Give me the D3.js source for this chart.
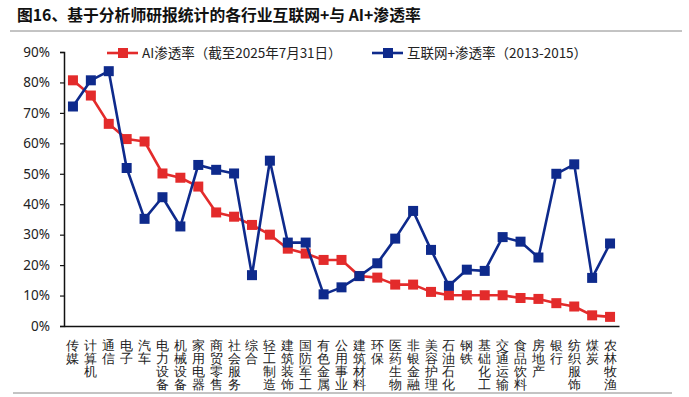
<!DOCTYPE html>
<html>
<head>
<meta charset="utf-8">
<script src="https://cdn.jsdelivr.net/npm/d3@7"></script>
<style>
  body { margin: 0; background: #fff; }
  svg { display: block; font-family: "Noto Sans CJK SC", "Noto Sans", sans-serif; }
</style>
</head>
<body>
<svg id="svg"></svg>
<script>
// industries, in the order of the x axis
const industries = ["传媒", "计算机", "通信", "电子", "汽车", "电力设备", "机械设备", "家用电器",
  "商贸零售", "社会服务", "综合", "轻工制造", "建筑装饰", "国防军工", "有色金属", "公用事业",
  "建筑材料", "环保", "医药生物", "非银金融", "美容护理", "石油石化", "钢铁", "基础化工",
  "交通运输", "食品饮料", "房地产", "银行", "纺织服饰", "煤炭", "农林牧渔"];

// AI渗透率 (%)
const aiRate = [80.7, 75.7, 66.4, 61.4, 60.6, 50.1, 48.7, 45.8, 37.3, 35.9, 33.2, 30.0, 25.4, 23.8,
  21.7, 21.7, 16.4, 15.9, 13.6, 13.6, 11.2, 10.1, 10.1, 10.1, 10.1, 9.2, 8.9, 7.5, 6.4, 3.5, 3.0];

// 互联网+渗透率 (%)
const netRate = [72.1, 80.7, 83.7, 51.9, 35.2, 42.3, 32.7, 52.9, 51.3, 50.1, 16.7, 54.3, 27.4, 27.4,
  10.4, 12.7, 16.4, 20.6, 28.7, 37.8, 25.0, 13.2, 18.5, 18.1, 29.2, 27.7, 22.5, 50.0, 53.1, 15.8, 27.1];

const yTicks = [0, 10, 20, 30, 40, 50, 60, 70, 80, 90];

const seriesNames = ["AI渗透率（截至2025年7月31日）", "互联网+渗透率（2013-2015）"];
const red = "#E32B2B";
const blue = "#0E2A8C";

const width = 689;
const height = 397;

let svg = d3.select("#svg")
    .attr("width", width)
    .attr("height", height);

// title + rules
svg.append("text")
    .attr("x", 17)
    .attr("y", 21)
    .style("font-size", "15.8px")
    .style("font-weight", "bold")
    .style("fill", "#111")
    .text("图16、基于分析师研报统计的各行业互联网+与 AI+渗透率");

svg.append("line")
    .attr("x1", 10).attr("x2", 682)
    .attr("y1", 31).attr("y2", 31)
    .attr("stroke", "#888").attr("stroke-width", 1);

svg.append("line")
    .attr("x1", 13).attr("x2", 672)
    .attr("y1", 393).attr("y2", 393)
    .attr("stroke", "#888").attr("stroke-width", 1);

// plot area
const margin = { top: 52, left: 64, right: 70, bottom: 71 };
const chartWidth = width - margin.left - margin.right;
const chartHeight = height - margin.top - margin.bottom;

let chart = svg.append("g")
    .attr("transform", "translate(" + margin.left + "," + margin.top + ")");

let xScale = d3.scaleBand()
    .domain(industries)
    .range([0, chartWidth]);

let yScale = d3.scaleLinear()
    .domain([0, 90])
    .range([chartHeight, 0]);

// y axis
let yAxis = chart.append("g")
    .call(d3.axisLeft(yScale).tickValues(yTicks).tickSize(4).tickSizeOuter(4).tickFormat(d => d + "%"));
yAxis.select(".domain").attr("stroke", "#111").attr("stroke-width", 1.5);
yAxis.selectAll(".tick line").attr("stroke", "#111").attr("stroke-width", 1.2);
yAxis.selectAll(".tick text")
    .attr("x", -14)
    .style("font-size", "13.5px")
    .style("font-family", "'Noto Sans', sans-serif")
    .style("fill", "#222");

// x axis
let xAxis = chart.append("g")
    .attr("transform", "translate(0," + chartHeight + ")")
    .call(d3.axisBottom(xScale).tickSize(0).tickSizeOuter(0));
xAxis.select(".domain").attr("stroke", "#111").attr("stroke-width", 1.5);
xAxis.selectAll(".tick text").remove();

// vertical category labels, one character per line
xAxis.selectAll(".tick").each(function(d) {
    let t = d3.select(this).append("text")
        .attr("text-anchor", "middle")
        .style("font-size", "13px")
        .style("fill", "#222");
    Array.from(d).forEach((ch, i) => {
        t.append("tspan")
            .attr("x", 0)
            .attr("y", 23.5 + i * 13.2)
            .text(ch);
    });
});

const cx = d => xScale(d) + xScale.bandwidth() / 2;

function drawSeries(values, colour) {
    let line = d3.line()
        .x((v, i) => cx(industries[i]))
        .y(v => yScale(v));

    chart.append("path")
        .datum(values)
        .attr("fill", "none")
        .attr("stroke", colour)
        .attr("stroke-width", 2.6)
        .attr("stroke-linejoin", "round")
        .attr("d", line);

    chart.selectAll(null)
        .data(values)
        .enter().append("rect")
        .attr("x", (v, i) => cx(industries[i]) - 5)
        .attr("y", v => yScale(v) - 5)
        .attr("width", 10)
        .attr("height", 10)
        .attr("fill", colour);
}

drawSeries(aiRate, red);
drawSeries(netRate, blue);

// legend
const legendItems = [
    { name: seriesNames[0], colour: red, x: 107 },
    { name: seriesNames[1], colour: blue, x: 372 }
];
legendItems.forEach(item => {
    let g = svg.append("g").attr("transform", "translate(" + item.x + ",53)");
    g.append("line")
        .attr("x1", 0).attr("x2", 31)
        .attr("stroke", item.colour).attr("stroke-width", 2.6);
    g.append("rect")
        .attr("x", 11).attr("y", -5)
        .attr("width", 10).attr("height", 10)
        .attr("fill", item.colour);
    g.append("text")
        .attr("x", 35)
        .attr("y", 5)
        .style("font-size", "13.5px")
        .style("fill", "#222")
        .text(item.name);
});
</script>
</body>
</html>
